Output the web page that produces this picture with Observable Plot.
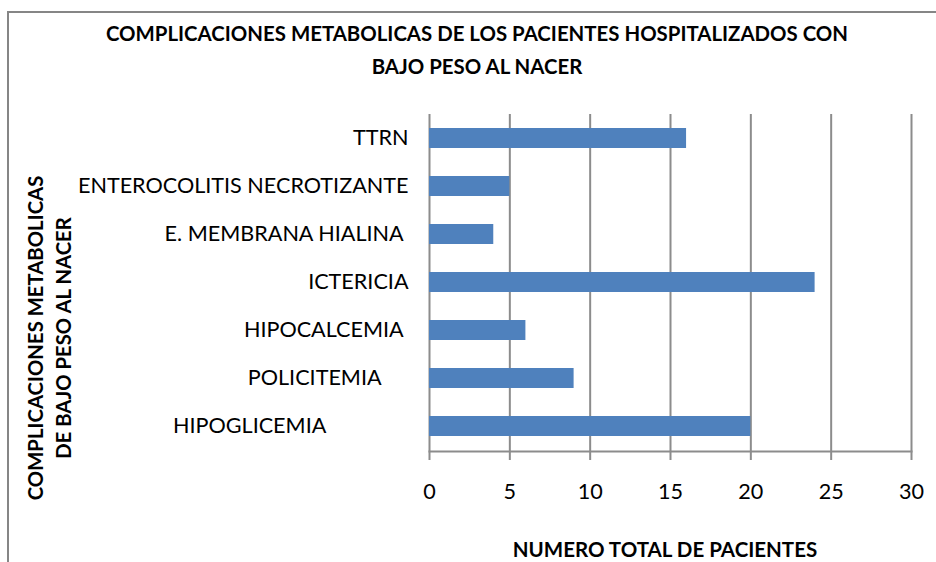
<!DOCTYPE html>
<html>
<head>
<meta charset="utf-8">
<script src="https://cdn.jsdelivr.net/npm/d3@7"></script>
<script src="https://cdn.jsdelivr.net/npm/@observablehq/plot@0.6"></script>
<style>
  html, body { margin: 0; padding: 0; background: #fff; }
  #wrap { position: relative; width: 936px; height: 562px; overflow: hidden; font-family: Lato, "Open Sans", sans-serif; background: #fff; }
  .bline { position: absolute; background: #868686; z-index: 5; }
  #topline { left: 7px; top: 11px; width: 929px; height: 2px; }
  #leftline { left: 7px; top: 11px; width: 2px; height: 551px; }
  #title { position: absolute; left: 0; width: 954px; top: 17px; text-align: center; font-weight: bold; font-size: 20.4px; line-height: 33px; color: #000; }
  #xlabel { position: absolute; left: 400px; width: 530px; top: 537px; text-align: center; font-weight: bold; font-size: 20.5px; color: #000; }
  #ylabel { position: absolute; left: 49px; top: 338px; transform: translate(-50%, -50%) rotate(-90deg); white-space: nowrap; text-align: center; font-weight: bold; font-size: 20.3px; line-height: 28px; color: #000; }
  #chart { position: absolute; left: 0; top: 0; }
</style>
</head>
<body>
<div id="wrap">
  <div id="chart"></div>
  <div class="bline" id="topline"></div>
  <div class="bline" id="leftline"></div>
  <div id="title">COMPLICACIONES METABOLICAS DE LOS PACIENTES HOSPITALIZADOS CON<br>BAJO PESO AL NACER</div>
  <div id="ylabel">COMPLICACIONES METABOLICAS<br>DE BAJO PESO AL NACER</div>
  <div id="xlabel">NUMERO TOTAL DE PACIENTES</div>
</div>
<script>
const categories = [
  "TTRN",
  "ENTEROCOLITIS NECROTIZANTE",
  "E. MEMBRANA HIALINA ",
  "ICTERICIA",
  "HIPOCALCEMIA ",
  "POLICITEMIA     ",
  "HIPOGLICEMIA               "
];
const values = [16, 5, 4, 24, 6, 9, 20];
const xTicks = [0, 5, 10, 15, 20, 25, 30];

const data = categories.map((c, i) => ({ name: c, value: values[i] }));
const fmt = d => d.replace(/ +$/, m => "\u00a0".repeat(m.length));

const chart = Plot.plot({
  width: 936,
  height: 562,
  marginLeft: 429,
  marginRight: 25,
  marginTop: 114,
  marginBottom: 111,
  style: { fontFamily: "Lato, 'Open Sans', sans-serif", fontSize: "21.6px", color: "#000", background: "transparent" },
  x: { domain: [0, 30], ticks: xTicks },
  y: { domain: categories, paddingInner: 0.58, paddingOuter: 0.29 },
  marks: [
    Plot.ruleX(xTicks, { stroke: "#8c8c8c", strokeWidth: 2, strokeOpacity: 1, insetBottom: -9 }),
    Plot.frame({ anchor: "bottom", stroke: "#8c8c8c", strokeWidth: 2 }),
    Plot.barX(data, { x: "value", y: "name", fill: "#4f81bd" }),
    Plot.axisX({ ticks: xTicks, tickSize: 0, tickPadding: 32, label: null, fontSize: 21.6 }),
    Plot.axisY({ tickSize: 0, tickPadding: 21, label: null, tickFormat: fmt, fontSize: 21.6 })
  ]
});
document.getElementById("chart").appendChild(chart);
</script>
</body>
</html>
